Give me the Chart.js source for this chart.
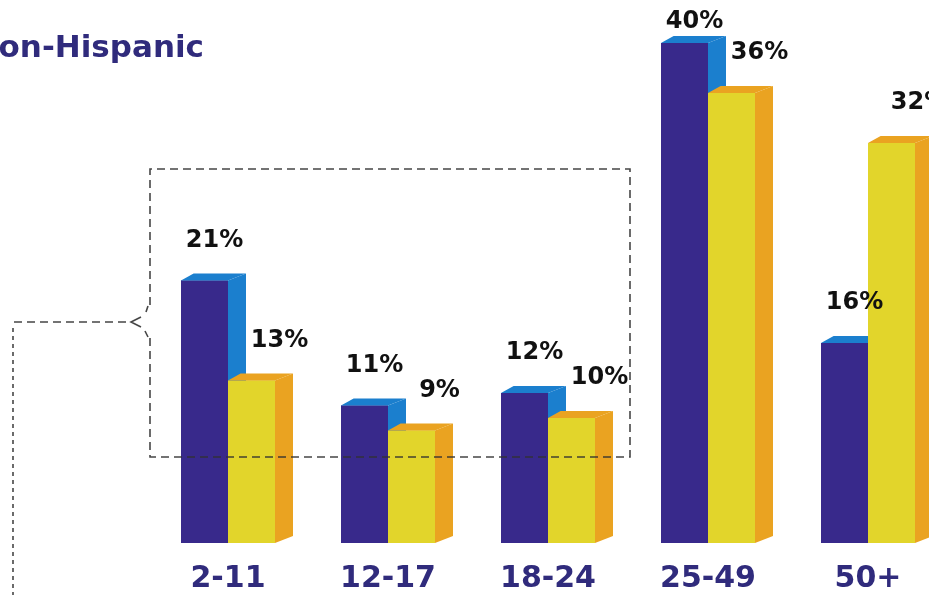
<!DOCTYPE html>
<html>
<head>
<meta charset="utf-8">
<title>Age groups</title>
<script src="https://cdn.jsdelivr.net/npm/chart.js@4"></script>
<style>
  html, body { margin: 0; padding: 0; background: #fff; overflow: hidden; }
  #wrap { width: 929px; height: 595px; overflow: hidden; }
</style>
</head>
<body>
<div id="wrap"><canvas id="age-chart" width="1000" height="595"></canvas></div>
<script>
"use strict"

// age groups and shares (%)
const ageGroups = ['2-11', '12-17', '18-24', '25-49', '50+'];
const hispanic = [21, 11, 12, 40, 16];
const nonHispanic = [13, 9, 10, 36, 32];

// face colours for the 3d bars
const purpleFront = '#38298b';
const purpleSide = '#1b7fce';
const yellowFront = '#e2d52b';
const yellowSide = '#eaa321';
const navy = '#302b7c';

const DEPTH_X = 18;
const DEPTH_Y = 7;

// draws side + top faces and the value labels on every bar
const bars3d = {
  id: 'bars3d',
  afterDatasetsDraw(chart) {
    const ctx = chart.ctx;
    const faces = [[purpleFront, purpleSide], [yellowFront, yellowSide]];
    ctx.save();
    chart.data.datasets.forEach((ds, i) => {
      const meta = chart.getDatasetMeta(i);
      meta.data.forEach(bar => {
        const { x, y, width, base } = bar.getProps(['x', 'y', 'width', 'base'], true);
        const l = x - width / 2, r = x + width / 2;
        // front
        ctx.fillStyle = faces[i][0];
        ctx.fillRect(l, y, width, base - y);
        // right side
        ctx.fillStyle = faces[i][1];
        ctx.beginPath();
        ctx.moveTo(r, y);
        ctx.lineTo(r + DEPTH_X, y - DEPTH_Y);
        ctx.lineTo(r + DEPTH_X, base - DEPTH_Y);
        ctx.lineTo(r, base);
        ctx.closePath();
        ctx.fill();
        // top
        ctx.beginPath();
        ctx.moveTo(l, y);
        ctx.lineTo(l + DEPTH_X * 0.7, y - DEPTH_Y);
        ctx.lineTo(r + DEPTH_X, y - DEPTH_Y);
        ctx.lineTo(r, y);
        ctx.closePath();
        ctx.fill();
      });
    });

    // value labels
    ctx.fillStyle = '#111';
    ctx.font = 'bold 24px "DejaVu Sans", Verdana, sans-serif';
    ctx.textAlign = 'center';
    ctx.textBaseline = 'middle';
    chart.data.datasets.forEach((ds, i) => {
      const meta = chart.getDatasetMeta(i);
      meta.data.forEach((bar, j) => {
        const shift = i === 0 ? 10 : 28;
        const ly = Math.max(bar.y - 40, 22);
        ctx.fillText(ds.data[j] + '%', bar.x + shift, ly);
      });
    });
    ctx.restore();
  }
};

// heading and the dashed bracket callout
const decor = {
  id: 'decor',
  afterDraw(chart) {
    const ctx = chart.ctx;
    ctx.save();
    ctx.fillStyle = navy;
    ctx.font = 'bold 31px "DejaVu Sans", Verdana, sans-serif';
    ctx.textAlign = 'right';
    ctx.textBaseline = 'alphabetic';
    ctx.fillText('Non-Hispanic', 204, 57);

    ctx.strokeStyle = 'rgba(50,50,50,0.9)';
    ctx.lineWidth = 1.6;
    ctx.setLineDash([8, 5]);
    ctx.beginPath();
    ctx.moveTo(150, 305);
    ctx.lineTo(150, 169);
    ctx.lineTo(630, 169);
    ctx.lineTo(630, 457);
    ctx.lineTo(150, 457);
    ctx.lineTo(150, 338);
    ctx.stroke();

    // brace
    ctx.setLineDash([]);
    ctx.beginPath();
    ctx.moveTo(148, 306);
    ctx.lineTo(146, 312);
    ctx.moveTo(141, 317);
    ctx.lineTo(131, 322);
    ctx.lineTo(141, 327);
    ctx.moveTo(145, 331);
    ctx.lineTo(148, 337);
    ctx.stroke();

    ctx.setLineDash([8, 5]);
    ctx.beginPath();
    ctx.moveTo(126, 322);
    ctx.lineTo(12, 322);
    ctx.stroke();

    ctx.setLineDash([4, 4]);
    ctx.beginPath();
    ctx.moveTo(13, 328);
    ctx.lineTo(13, 595);
    ctx.stroke();
    ctx.restore();
  }
};

const data = {
  labels: ageGroups,
  datasets: [
    { label: 'Hispanic', data: hispanic, backgroundColor: purpleFront },
    { label: 'Non-Hispanic', data: nonHispanic, backgroundColor: yellowFront }
  ]
};

const config = {
  type: 'bar',
  data,
  options: {
    responsive: false,
    devicePixelRatio: 1,
    animation: false,
    layout: { padding: { left: 148, right: 52, top: 5.5, bottom: 0 } },
    datasets: {
      bar: { barPercentage: 1, categoryPercentage: 0.5875, borderWidth: 0 }
    },
    plugins: {
      legend: { display: false },
      tooltip: { enabled: false }
    },
    scales: {
      x: {
        grid: { display: false, drawTicks: false },
        border: { display: false },
        afterFit(scale) { scale.height = 52; },
        ticks: {
          color: navy,
          padding: 18,
          font: { family: '"DejaVu Sans", Verdana, sans-serif', size: 30, weight: 'bold' }
        }
      },
      y: {
        display: false,
        min: 0,
        max: 43
      }
    }
  },
  plugins: [bars3d, decor]
};

const ageChart = new Chart(document.getElementById('age-chart'), config);
</script>
</body>
</html>
